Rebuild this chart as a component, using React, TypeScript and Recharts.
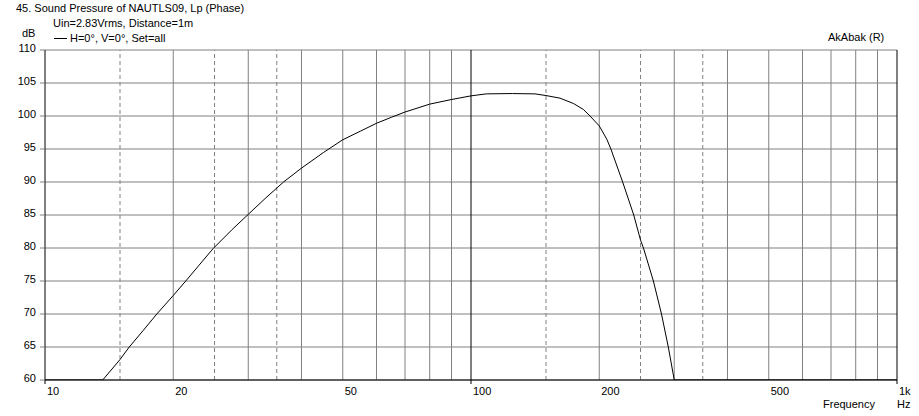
import { LineChart, Line, XAxis, YAxis, CartesianGrid, ReferenceLine } from 'recharts'

// frequency response (Hz, dB)
const freqs = [10, 13.66, 15, 15.77, 17, 18.3, 20, 21.4, 23, 24.8, 27.5, 30, 33, 36.3, 40, 45, 50, 55, 60, 65, 70, 80, 90, 100, 108.6, 125, 141.3, 150, 161.8, 173.9, 183.5, 190.3, 200, 208.3, 213, 227, 241, 250, 254, 268, 280, 290.5, 300, 1000]
const spl = [60, 60, 63.1, 65, 67.5, 70, 72.8, 75, 77.4, 79.9, 82.8, 85.1, 87.6, 90, 92.1, 94.45, 96.4, 97.7, 98.9, 99.8, 100.6, 101.8, 102.5, 103.05, 103.35, 103.4, 103.35, 103.1, 102.7, 101.9, 101.0, 100, 98.5, 96.5, 95, 90, 85, 81.2, 80, 75, 70, 65, 60, 60]

const xTicks = [10, 20, 50, 100, 200, 500, 1000]
const yTicks = [60, 65, 70, 75, 80, 85, 90, 95, 100, 105, 110]
const solidGrid = [20, 30, 40, 50, 60, 70, 80, 90, 200, 300, 400, 500, 600, 700, 800, 900]
const dashedGrid = [15, 25, 35, 150, 250, 350]
const decades = [10, 100, 1000]

const data = freqs.map((f, i) => ({ f, db: spl[i] }))

const FONT = '"Liberation Sans", Arial, sans-serif'
const GRID = '#808080'
const PLOT_BOTTOM = 380

function XTick({ x, payload }: any) {
  const v = payload.value
  return (
    <g>
      {decades.includes(v) && <line x1={x} x2={x} y1={PLOT_BOTTOM} y2={PLOT_BOTTOM + 4} stroke="#000" />}
      <text x={x + 2} y={395} textAnchor="start" fontSize={11} fontFamily={FONT} fill="#000">
        {v === 1000 ? '1k' : v}
      </text>
    </g>
  )
}

function YTick({ x, y, payload }: any) {
  return (
    <text x={x} y={y + 2} textAnchor="end" fontSize={11} fontFamily={FONT} fill="#000">
      {payload.value}
    </text>
  )
}

const label = (left: number, top: number, text: string) => (
  <div style={{ position: 'absolute', left, top, fontSize: 11, fontFamily: FONT, whiteSpace: 'nowrap', lineHeight: '12px' }}>
    {text}
  </div>
)

export default function App() {
  return (
    <div style={{ position: 'absolute', left: 0, top: 0, width: 919, height: 416, background: '#fff' }}>
      <LineChart width={919} height={416} data={data} margin={{ top: 50, right: 22, bottom: 0, left: 0 }}>
        <CartesianGrid vertical={false} stroke={GRID} />
        <XAxis
          dataKey="f"
          type="number"
          scale="log"
          domain={[10, 1000]}
          ticks={xTicks}
          height={36}
          axisLine={{ stroke: '#000' }}
          tickLine={false}
          tick={<XTick />}
          allowDataOverflow
        />
        <YAxis
          type="number"
          domain={[60, 110]}
          ticks={yTicks}
          width={45}
          axisLine={{ stroke: '#000' }}
          tickLine={{ stroke: GRID }}
          tickSize={5}
          tickMargin={4}
          tick={<YTick />}
          allowDataOverflow
        />
        {solidGrid.map((v) => (
          <ReferenceLine key={'s' + v} x={v} stroke={GRID} />
        ))}
        {dashedGrid.map((v) => (
          <ReferenceLine key={'d' + v} x={v} stroke={GRID} strokeDasharray="4 3" />
        ))}
        <ReferenceLine x={100} stroke="#000" />
        <ReferenceLine x={1000} stroke="#000" />
        <Line dataKey="db" type="linear" stroke="#000" strokeWidth={1} dot={false} isAnimationActive={false} />
      </LineChart>
      {label(16, 2, '45. Sound Pressure of NAUTLS09, Lp (Phase)')}
      {label(53, 17, 'Uin=2.83Vrms, Distance=1m')}
      {label(22, 27, 'dB')}
      <div style={{ position: 'absolute', left: 54, top: 38, width: 13, height: 1, background: '#000' }} />
      {label(70, 32, 'H=0°, V=0°, Set=all')}
      {label(828, 31, 'AkAbak (R)')}
      {label(823, 398, 'Frequency')}
      {label(897, 398, 'Hz')}
    </div>
  )
}
